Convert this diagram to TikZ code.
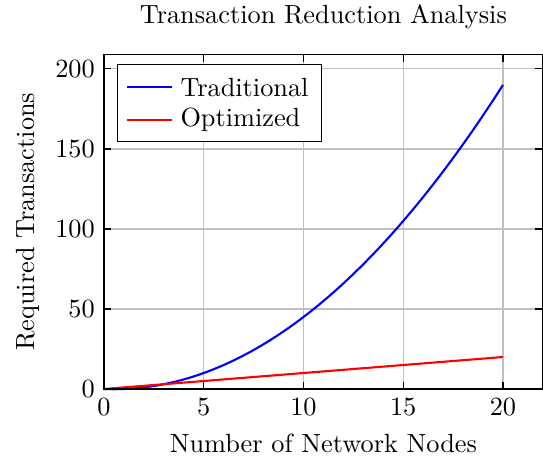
\documentclass[tikz,border=0pt]{standalone}
\usepackage{tikz}
\usetikzlibrary{positioning}
\tikzstyle{curve} = [line width=0.8pt]
\tikzstyle{gridline} = [black!25, line width=0.4pt]
\tikzstyle{tick} = [line width=0.4pt]

\begin{document}
\begin{tikzpicture}[x=7.585pt, y=0.6084pt]
    \useasboundingbox (-5.213,-42.5) rectangle (22.005,243.1);

    % Grid
    \foreach \x in {5,10,15,20} {
        \draw[gridline] (\x,0) -- (\x,209);
    }
    \foreach \y in {50,100,150,200} {
        \draw[gridline] (0,\y) -- (22,\y);
    }

    % Traditional: n(n-1)/2
    \draw[blue, curve] plot[domain=0:20, samples=81, smooth] (\x, {\x*(\x-1)/2});

    % Optimized: n
    \draw[red, curve] (0,0) -- (20,20);

    % Frame
    \draw[line width=0.4pt] (0,0) rectangle (22,209);

    % Ticks and tick labels
    \foreach \x in {0,5,10,15,20} {
        \draw[tick] (\x,0) -- ++(0pt,0.1cm);
        \draw[tick] (\x,209) -- ++(0pt,-0.1cm);
        \node[below] (xt\x) at (\x,0) {\x};
    }
    \foreach \y in {0,50,100,150,200} {
        \draw[tick] (0,\y) -- ++(0.1cm,0pt);
        \draw[tick] (22,\y) -- ++(-0.1cm,0pt);
        \node[left] (yt\y) at (0,\y) {\y};
    }

    % Axis labels and title
    \node (xlabel) at (11,-33.75) {Number of Network Nodes};
    \node[rotate=90] (ylabel) at (-3.81,104.5) {Required Transactions};
    \node (title) at (11,232.5) {Transaction Reduction Analysis};

    % Legend
    \draw[fill=white, line width=0.4pt] (0.70,154.6) rectangle (10.91,202.5);
    \draw[blue, curve] (1.15,188.6) -- (3.41,188.6);
    \node[anchor=west, inner sep=0pt] (legtrad) at (3.81,188.6) {Traditional};
    \draw[red, curve] (1.15,168.1) -- (3.41,168.1);
    \node[anchor=west, inner sep=0pt] (legopt) at (3.81,168.1) {Optimized};
\end{tikzpicture}
\end{document}
